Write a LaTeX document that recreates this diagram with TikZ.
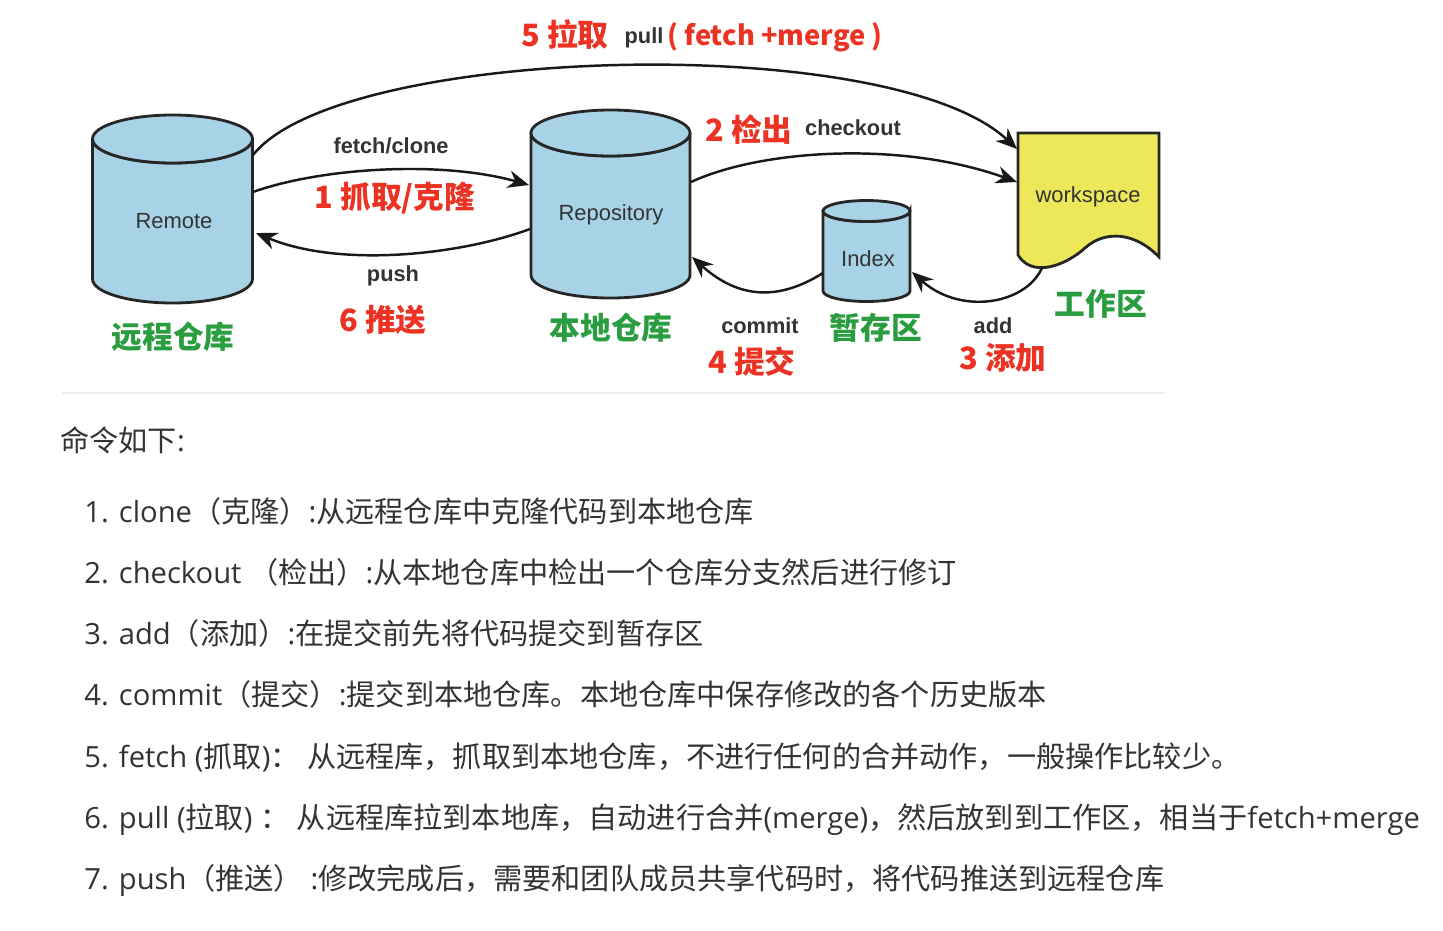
\documentclass[tikz,border=0pt]{standalone}
\usepackage{fontspec}
\setmainfont{Open Sans}
\newfontfamily\cjk{Noto Sans CJK SC}
\newfontfamily\arial{Liberation Sans}
\usetikzlibrary{arrows.meta}

\definecolor{cylblue}{HTML}{A8D3E6}
\definecolor{docyellow}{HTML}{EDE85A}
\definecolor{numred}{HTML}{EB3223}
\definecolor{areagreen}{HTML}{2A9D40}
\definecolor{txtgray}{HTML}{333333}

\begin{document}
\begin{tikzpicture}[x=0.02cm,y=-0.02cm]

     \tikzstyle{cyl}=[fill=cylblue,draw=black!85,line width=1.6pt]
     \tikzstyle{flow}=[draw=black!90,line width=1.4pt,-{Stealth[length=12pt,width=10pt]}]
     \tikzstyle{boxlabel}=[font=\arial\fontsize{12.5}{14}\selectfont,text=black!80]
     \tikzstyle{cmd}=[font=\arial\bfseries\fontsize{12.4}{14}\selectfont,text=txtgray]
     \tikzstyle{numlabel}=[font=\cjk\bfseries\fontsize{17.5}{20}\selectfont,text=numred]
     \tikzstyle{area}=[font=\cjk\bfseries\fontsize{17.5}{20}\selectfont,text=areagreen]
     \tikzstyle{item}=[anchor=base west,inner sep=0pt,font=\fontsize{16.6}{20}\selectfont,text=txtgray]

      \useasboundingbox (0,0) rectangle (1443,930);

      \begin{scope}
         % cylinders and the work sheet
         \filldraw[cyl] (92.5,139) -- (92.5,279) arc(180:0:80 and 24) -- (252.5,139) arc(0:180:80 and 24) -- cycle;
         \draw[cyl] (172.5,139) ellipse (80 and 24);

         \filldraw[cyl] (531,133) -- (531,275) arc(180:0:79.5 and 23) -- (690,133) arc(0:180:79.5 and 23) -- cycle;
         \draw[cyl] (610.5,133) ellipse (79.5 and 23);

         \filldraw[cyl] (823,211) -- (823,291) arc(180:0:43.5 and 10.5) -- (910,211) arc(0:180:43.5 and 10.5) -- cycle;
         \draw[cyl] (866.5,211) ellipse (43.5 and 10.5);

         \filldraw[fill=docyellow,draw=black!85,line width=1.6pt] (1018,133) -- (1159,133) -- (1159,257)
            .. controls (1135,232) and (1105,230) .. (1085,248)
            .. controls (1065,266) and (1032,278) .. (1018,255) -- cycle;

         \node[boxlabel] (remote) at (174,221) {Remote};
         \node[boxlabel] (repo) at (611,215) {Repository};
         \node[boxlabel] (index) at (868,259) {Index};
         \node[boxlabel] (work) at (1088,197) {workspace};

         \coordinate (remote-pull) at (253,155);
         \coordinate (remote-fetch) at (253,192);
         \coordinate (remote-push) at (256,233);
         \coordinate (repo-fetch) at (529,185);
         \coordinate (repo-push) at (530,229);
         \coordinate (repo-checkout) at (691,182);
         \coordinate (repo-commit) at (692,257);
         \coordinate (index-commit) at (823,273);
         \coordinate (index-add) at (912,272);
         \coordinate (work-pull) at (1017,149);
         \coordinate (work-checkout) at (1017,182);
         \coordinate (work-add) at (1042,268);

         \draw[flow] (remote-pull) .. controls (340,45) and (890,30) .. (work-pull);
         \draw[flow] (remote-fetch) .. controls (320,168) and (440,160) .. (repo-fetch);
         \draw[flow] (repo-push) .. controls (460,255) and (340,268) .. (remote-push);
         \draw[flow] (repo-checkout) .. controls (760,150) and (900,140) .. (work-checkout);
         \draw[flow] (index-commit) .. controls (780,300) and (740,300) .. (repo-commit);
         \draw[flow] (work-add) .. controls (1025,305) and (960,315) .. (index-add);

         \node[numlabel] (pullnum) at (565,35) {5 拉取};
         \node[cmd] (pulltxt) at (644,38) {pull};
         \node[numlabel,font=\cjk\bfseries\fontsize{15.5}{18}\selectfont] (pullmerge) at (775,37) {( fetch +merge )};

         \node[cmd] (fetchtxt) at (391,146) {fetch/clone};
         \node[numlabel] (fetchnum) at (395,198) {1 抓取/克隆};
         \node[cmd] (pushtxt) at (393,276) {push};
         \node[numlabel] (pushnum) at (383,320) {6 推送};
         \node[numlabel] (checknum) at (749,130) {2 检出};
         \node[cmd] (checktxt) at (853,128) {checkout};
         \node[cmd] (committxt) at (760,326) {commit};
         \node[numlabel] (commitnum) at (752,362) {4 提交};
         \node[cmd] (addtxt) at (993,326) {add};
         \node[numlabel] (addnum) at (1003,358) {3 添加};

         \node[area] (remotearea) at (173,337) {远程仓库};
         \node[area] (repoarea) at (611,328) {本地仓库};
         \node[area] (indexarea) at (876,328) {暂存区};
         \node[area] (workarea) at (1101,304) {工作区};

         \draw[draw=black!7,line width=0.8pt] (62,393) -- (1165,393);
      \end{scope}

      % command list
      \node[item] (head) at (60,451) {{\cjk 命令如下}:};
      \node[item] (l1) at (84,522) {1. clone{\cjk （克隆）}:{\cjk 从远程仓库中克隆代码到本地仓库}};
      \node[item] (l2) at (84,583) {2. checkout {\cjk （检出）}:{\cjk 从本地仓库中检出一个仓库分支然后进行修订}};
      \node[item] (l3) at (84,644) {3. add{\cjk （添加）}:{\cjk 在提交前先将代码提交到暂存区}};
      \node[item] (l4) at (84,705) {4. commit{\cjk （提交）}:{\cjk 提交到本地仓库。本地仓库中保存修改的各个历史版本}};
      \node[item] (l5) at (84,767) {5. fetch ({\cjk 抓取}){\cjk ：} {\cjk 从远程库，抓取到本地仓库，不进行任何的合并动作，一般操作比较少。}};
      \node[item] (l6) at (84,828) {6. pull ({\cjk 拉取}) {\cjk ：} {\cjk 从远程库拉到本地库，自动进行合并}(merge){\cjk ，然后放到到工作区，相当于}fetch+merge};
      \node[item] (l7) at (84,889) {7. push{\cjk （推送）} :{\cjk 修改完成后，需要和团队成员共享代码时，将代码推送到远程仓库}};

\end{tikzpicture}
\end{document}
